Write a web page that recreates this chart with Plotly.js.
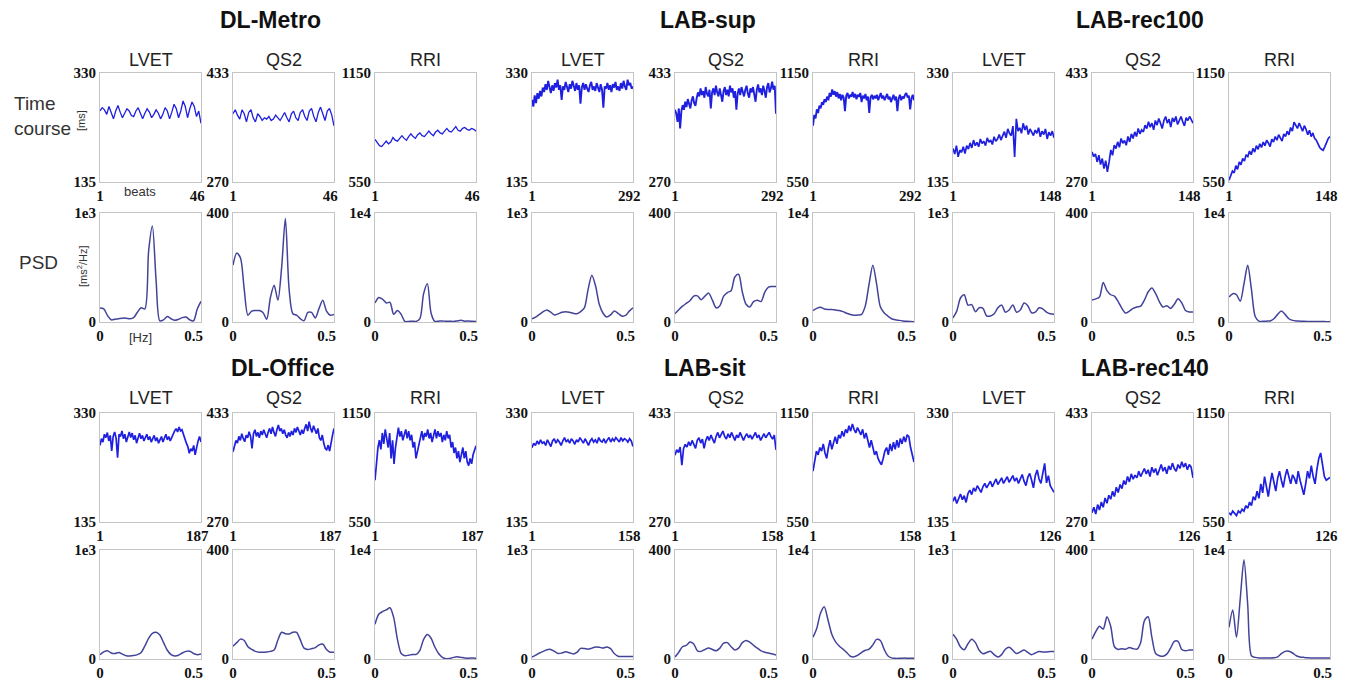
<!DOCTYPE html>
<html>
<head>
<meta charset="utf-8">
<script src="https://cdn.plot.ly/plotly-3.0.1.min.js"></script>
<style>html,body{margin:0;padding:0;background:#fff;}#chart{width:1348px;height:681px;}</style>
</head>
<body>
<div id="chart"></div>
<script>
// ---------------- DATA ----------------
const groups = ['DL-Metro', 'LAB-sup', 'LAB-rec100', 'DL-Office', 'LAB-sit', 'LAB-rec140'];
const signals = ['LVET', 'QS2', 'RRI'];
const beatCounts = [46, 292, 148, 187, 158, 126];
const tcMin = [135, 270, 550];
const tcMax = [330, 433, 1150];
const psdMax = [1000, 400, 10000];
const psdTopLabel = ['1e3', '400', '1e4'];
const freqStep = 0.02;   // PSD frequency grid (Hz), 0 ... 0.54

// Time courses [ms]
const lvet_DLMetro = [262,268,264,256,270,258,248,262,272,260,250,258,266,262,254,252,262,268,256,248,258,266,260,250,256,264,258,248,256,268,262,248,260,274,266,250,262,280,270,250,266,278,270,252,262,240];
const qs2_DLMetro = [372,378,370,364,378,372,360,374,378,366,360,372,368,362,366,364,368,362,364,370,366,362,368,374,366,360,372,376,366,362,374,378,368,362,376,380,368,360,374,382,372,362,376,380,370,354];
const rri_DLMetro = [785,770,750,745,760,775,760,770,795,780,775,790,805,790,780,800,815,800,790,810,820,805,800,815,830,815,805,825,835,820,815,830,845,830,825,840,855,835,830,845,850,840,835,845,840,830];

const lvet_LABsup = [282,270,290,276,294,284,298,288,304,296,310,300,316,302,294,308,298,312,304,318,300,308,282,306,300,314,304,296,310,302,316,306,298,312,300,308,275,304,312,300,310,302,296,308,314,300,306,298,312,304,296,310,300,268,306,302,312,300,308,296,310,304,314,300,306,298,312,302,316,306,300,318,308,312,302,306];
const qs2_LABsup = [378,372,360,380,350,376,385,378,390,382,394,386,380,392,398,388,384,396,404,398,410,400,406,396,412,402,398,408,380,404,410,400,414,404,398,410,402,390,406,412,400,408,398,414,404,410,396,406,378,402,410,400,412,404,398,408,414,402,396,410,404,412,400,390,408,416,404,410,400,414,406,396,412,418,404,410,420,408,414,372];
const rri_LABsup = [860,920,900,950,930,970,955,990,975,1005,990,1020,1000,1040,1020,1060,1030,1050,1020,1045,1010,1035,1000,1030,1015,940,1025,1040,1010,1030,1020,1045,1015,1035,1005,1030,1020,1040,990,1025,1010,1035,1000,1020,930,1015,1030,1005,1025,1010,1030,1000,1020,1040,1010,1025,1000,1020,1035,1005,1020,990,1015,1030,1000,1020,940,1010,1030,1000,1020,1010,1030,1040,1015,1025,950,1010,1030,1000];

const lvet_LABrec100 = [195,185,200,180,192,188,198,186,200,194,205,196,210,200,206,198,212,204,208,200,214,206,210,202,216,208,212,220,210,218,225,214,230,222,218,235,180,248,226,232,222,240,228,236,220,230,224,218,228,222,232,216,226,220,230,212,224,218,226,214];
const qs2_LABrec100 = [315,308,312,300,310,296,305,290,302,285,300,318,310,325,320,330,322,335,328,332,325,338,330,342,335,345,338,350,342,348,345,355,350,360,352,358,348,362,355,365,358,350,362,368,358,364,352,366,360,368,356,362,368,360,354,366,362,368,364,358];
const rri_LABrec100 = [560,585,610,600,640,620,660,645,680,665,700,690,720,700,735,715,750,730,760,740,770,750,780,765,745,785,770,800,780,810,790,775,815,800,830,810,850,830,880,860,845,875,850,830,860,840,810,835,800,820,790,780,760,740,730,725,745,770,790,800];

const lvet_DLOffice = [272,284,278,292,286,295,280,290,262,288,296,285,250,292,288,298,284,292,278,290,296,286,294,282,290,276,288,294,284,290,280,286,292,282,288,278,284,290,280,286,276,282,288,278,286,292,282,288,280,286,294,298,302,296,305,298,300,290,284,276,270,258,266,262,272,255,270,280,288,278];
const qs2_DLOffice = [375,385,392,388,398,392,402,395,390,400,396,405,398,380,402,408,398,404,396,406,400,408,402,396,404,410,402,412,404,398,408,415,406,410,402,408,400,396,404,398,406,400,410,404,412,406,400,408,402,410,416,406,420,410,404,414,408,402,410,396,392,400,388,380,378,385,376,390,400,410];
const rri_DLOffice = [780,900,960,1000,950,1040,980,1060,1010,960,1040,900,1000,870,960,1030,1070,1020,1050,1000,1040,1060,1010,1050,1000,1030,960,990,900,940,990,1010,1050,1000,1040,1020,1060,1010,1040,990,1030,1060,1010,1050,1020,1040,990,1030,1000,1050,1010,1030,960,990,930,960,900,940,880,920,960,900,940,880,860,900,870,920,950,970];

const lvet_LABsit = [268,276,272,280,274,282,276,278,272,282,276,270,280,284,276,282,278,272,280,286,278,282,276,284,280,274,282,278,286,280,276,284,278,272,280,284,278,282,276,286,280,278,284,276,282,286,278,284,280,286,282,278,286,280,284,282,278,284,280,270];
const qs2_LABsit = [370,378,374,382,355,380,386,382,390,384,392,386,380,392,396,388,394,380,392,398,392,400,394,388,398,404,396,400,406,398,394,402,396,404,398,392,400,396,404,398,392,398,402,396,400,394,398,404,396,400,392,398,402,396,400,404,398,394,400,378];
const rri_LABsit = [830,900,940,920,960,940,980,930,900,960,1000,950,990,1020,980,1030,1010,1050,1020,1060,1040,1080,1050,1090,1060,1040,1070,1050,1030,1060,1010,1040,990,960,1000,950,920,940,900,880,865,900,940,960,920,980,940,990,950,1000,960,1010,980,1020,990,1030,1020,960,920,880];

const lvet_LABrec140 = [172,180,168,178,185,175,182,170,186,192,184,196,190,200,194,188,198,204,196,202,208,198,206,212,202,208,214,204,210,216,206,212,218,208,214,204,212,220,208,200,215,222,210,196,218,228,212,204,222,240,205,218,200,195,188];
const qs2_LABrec140 = [284,292,282,296,288,300,292,306,298,310,304,316,308,322,314,326,320,332,326,338,330,342,334,340,336,346,338,344,350,342,348,338,352,344,350,340,348,356,346,352,342,354,348,358,350,346,356,350,360,352,358,348,356,352,336];
const rri_LABrec140 = [600,590,610,595,585,610,600,620,610,640,625,660,640,690,670,720,680,760,710,800,740,690,760,820,770,720,790,830,780,740,800,840,800,760,810,790,760,830,780,740,700,760,830,790,860,800,760,840,900,930,850,800,780,790,795];

// PSD [ms^2/Hz] on the frequency grid 0, 0.02, ... 0.54 Hz
const psdLvet_DLMetro = [128,120,60,20,25,30,35,35,30,40,90,130,120,650,880,380,10,20,50,30,15,25,40,45,20,10,120,190];
const psdQs2_DLMetro = [209,253,235,120,25,40,42,42,35,10,90,135,80,200,380,120,30,25,12,5,35,35,15,50,80,40,25,28];
const psdRri_DLMetro = [1740,2250,2100,1750,1800,700,1050,700,50,50,80,60,300,2600,3500,800,50,80,100,60,80,50,100,150,80,100,60,50];

const psdLvet_LABsup = [30,45,70,95,110,90,65,75,90,95,90,80,75,95,130,300,430,330,160,80,45,65,100,80,55,60,100,130];
const psdQs2_LABsup = [30,45,58,68,78,95,96,82,95,106,80,52,60,95,108,115,165,175,110,65,55,75,80,75,110,128,130,130];
const psdRri_LABsup = [1050,1250,1350,1200,1150,1150,1100,1050,950,800,680,620,640,700,1500,3500,5200,3500,1400,850,550,300,200,150,100,60,40,30];

const psdLvet_LABrec100 = [37,100,220,250,155,160,95,130,125,55,55,75,130,155,90,110,155,90,110,175,150,85,90,130,120,90,75,70];
const psdQs2_LABrec100 = [81,85,92,145,115,100,95,75,50,33,40,50,55,58,80,110,125,105,75,55,60,50,65,85,70,42,37,37];
const psdRri_LABrec100 = [2290,2600,2500,1900,3500,5200,3000,500,80,60,80,100,300,700,1000,700,300,150,100,80,60,50,50,40,40,40,30,30];

const psdLvet_DLOffice = [40,65,75,55,50,60,45,30,28,32,40,60,120,190,235,245,220,150,80,40,28,35,55,70,72,50,40,45];
const psdQs2_DLOffice = [47,60,73,68,45,35,28,25,25,26,28,33,70,98,93,92,98,98,70,40,35,38,42,52,55,35,25,25];
const psdRri_DLOffice = [3190,4100,4350,4500,4700,3800,1800,500,300,350,420,420,800,1800,2250,1900,1100,500,150,20,50,150,200,150,100,80,100,80];

const psdLvet_LABsit = [18,35,55,70,85,88,70,50,55,66,58,47,60,98,96,90,100,110,108,100,110,95,50,25,22,22,22,22];
const psdQs2_LABsit = [7,25,45,50,62,55,30,28,35,40,35,30,40,58,60,45,33,40,60,68,62,50,40,30,25,22,18,15];
const psdRri_LABsit = [2000,2800,4200,4800,3600,2300,1600,1200,900,600,250,200,350,600,800,900,1300,1800,1700,900,300,100,60,60,80,80,70,80];

const psdLvet_LABrec140 = [227,180,110,85,140,182,150,80,48,60,72,40,18,40,90,108,80,50,65,82,60,40,55,68,65,65,68,68];
const psdQs2_LABrec140 = [73,100,120,110,155,120,45,35,38,36,42,38,36,60,140,155,80,20,12,10,18,40,65,65,35,30,33,33];
const psdRri_LABrec140 = [2900,4500,2000,5500,9100,5000,300,150,100,100,100,100,120,200,500,700,720,550,300,180,150,120,100,100,100,100,100,100];

const timeSeries = [
  [lvet_DLMetro, qs2_DLMetro, rri_DLMetro],
  [lvet_LABsup, qs2_LABsup, rri_LABsup],
  [lvet_LABrec100, qs2_LABrec100, rri_LABrec100],
  [lvet_DLOffice, qs2_DLOffice, rri_DLOffice],
  [lvet_LABsit, qs2_LABsit, rri_LABsit],
  [lvet_LABrec140, qs2_LABrec140, rri_LABrec140]
];
const psdSeries = [
  [psdLvet_DLMetro, psdQs2_DLMetro, psdRri_DLMetro],
  [psdLvet_LABsup, psdQs2_LABsup, psdRri_LABsup],
  [psdLvet_LABrec100, psdQs2_LABrec100, psdRri_LABrec100],
  [psdLvet_DLOffice, psdQs2_DLOffice, psdRri_DLOffice],
  [psdLvet_LABsit, psdQs2_LABsit, psdRri_LABsit],
  [psdLvet_LABrec140, psdQs2_LABrec140, psdRri_LABrec140]
];

// ---------------- LAYOUT GEOMETRY (pixels) ----------------
const W = 1348, H = 681;
const colLeft = [[100, 233, 375], [532, 675, 813], [953, 1092, 1229]];
const boxW = 101, boxH = 109;
const rowTop = [[73, 213], [413, 550]];
const titleX = [270, 708, 1140, 283, 705, 1145];
const titleY = [20, 368];
const subY = [60, 398];

const px = v => v / W;
const py = v => 1 - v / H;

const tickFont = {family: 'Liberation Serif, Times New Roman, serif', size: 15, color: '#111', weight: 'bold'};
const NB = '\u00a0';

const traces = [];
const layout = {
  width: W, height: H,
  margin: {l: 0, r: 0, t: 0, b: 0},
  paper_bgcolor: '#fff', plot_bgcolor: '#fff',
  showlegend: false,
  annotations: []
};

let k = 0;
for (let g = 0; g < 6; g++) {
  const gc = g % 3, gr = Math.floor(g / 3);
  const N = beatCounts[g];
  for (let s = 0; s < 3; s++) {
    const left = colLeft[gc][s];
    for (let r = 0; r < 2; r++) {
      k++;
      const top = rowTop[gr][r];
      const xa = 'xaxis' + (k === 1 ? '' : k), ya = 'yaxis' + (k === 1 ? '' : k);
      const xr = 'x' + (k === 1 ? '' : k), yr = 'y' + (k === 1 ? '' : k);
      const common = {
        showline: true, mirror: true, linecolor: '#c4c4c4', linewidth: 1,
        showgrid: false, zeroline: false, ticks: '', fixedrange: true,
        tickfont: tickFont
      };
      if (r === 0) {
        const vals = timeSeries[g][s];
        const M = vals.length;
        const xs = vals.map((_, i) => 1 + i * (N - 1) / (M - 1));
        traces.push({x: xs, y: vals, xaxis: xr, yaxis: yr, type: 'scatter', mode: 'lines',
          line: {color: '#1f1fe0', width: (M > 70 ? 1.9 : (M > 50 ? 1.7 : 1.3))}, hoverinfo: 'skip'});
        layout[xa] = Object.assign({}, common, {
          domain: [px(left), px(left + boxW)], anchor: yr,
          range: [1, N], tickvals: [1, N], ticktext: ['1', N + NB + NB]
        });
        layout[ya] = Object.assign({}, common, {
          domain: [py(top + boxH), py(top)], anchor: xr,
          range: [tcMin[s], tcMax[s]], tickvals: [tcMin[s], tcMax[s]],
          ticktext: [String(tcMin[s]), String(tcMax[s])]
        });
      } else {
        const vals = psdSeries[g][s];
        const fs = vals.map((_, i) => +(i * freqStep).toFixed(2));
        traces.push({x: fs, y: vals, xaxis: xr, yaxis: yr, type: 'scatter', mode: 'lines',
          line: {color: '#43439a', width: 1.5, shape: 'spline', smoothing: 0.8}, hoverinfo: 'skip'});
        layout[xa] = Object.assign({}, common, {
          domain: [px(left), px(left + boxW)], anchor: yr,
          range: [0, 0.54], tickvals: [0, 0.5], ticktext: ['0', '0.5']
        });
        layout[ya] = Object.assign({}, common, {
          domain: [py(top + boxH), py(top)], anchor: xr,
          range: [0, psdMax[s]], tickvals: [0, psdMax[s]],
          ticktext: ['0', psdTopLabel[s]]
        });
      }
    }
    // subplot title (signal name)
    layout.annotations.push({
      text: signals[s], xref: 'paper', yref: 'paper',
      x: px(left + boxW / 2), y: py(subY[gr]), showarrow: false,
      font: {family: 'Liberation Sans, Arial, sans-serif', size: 18, color: '#222'},
      xanchor: 'center', yanchor: 'middle'
    });
  }
  // group title
  layout.annotations.push({
    text: groups[g], xref: 'paper', yref: 'paper',
    x: px(titleX[g]), y: py(titleY[gr]), showarrow: false,
    font: {family: 'Liberation Sans, Arial, sans-serif', size: 23, color: '#111', weight: 'bold'},
    xanchor: 'center', yanchor: 'middle'
  });
}

// side labels
const lab = (text, x, y, size, opts) => layout.annotations.push(Object.assign({
  text: text, xref: 'paper', yref: 'paper', x: px(x), y: py(y), showarrow: false,
  font: {family: 'Liberation Sans, Arial, sans-serif', size: size, color: '#333'},
  xanchor: 'center', yanchor: 'middle'
}, opts || {}));
lab('Time', 12, 103, 19, {xanchor: 'left'});
lab('course', 12, 128, 19, {xanchor: 'left'});
lab('[ms]', 81, 121, 11, {textangle: -90});
lab('PSD', 17, 262, 19, {xanchor: 'left'});
lab('[ms<sup>2</sup>/Hz]', 82, 266, 11, {textangle: -90});
lab('beats', 140, 192, 13);
lab('[Hz]', 140, 337, 13);

Plotly.newPlot('chart', traces, layout, {staticPlot: true, displayModeBar: false});
</script>
</body>
</html>
